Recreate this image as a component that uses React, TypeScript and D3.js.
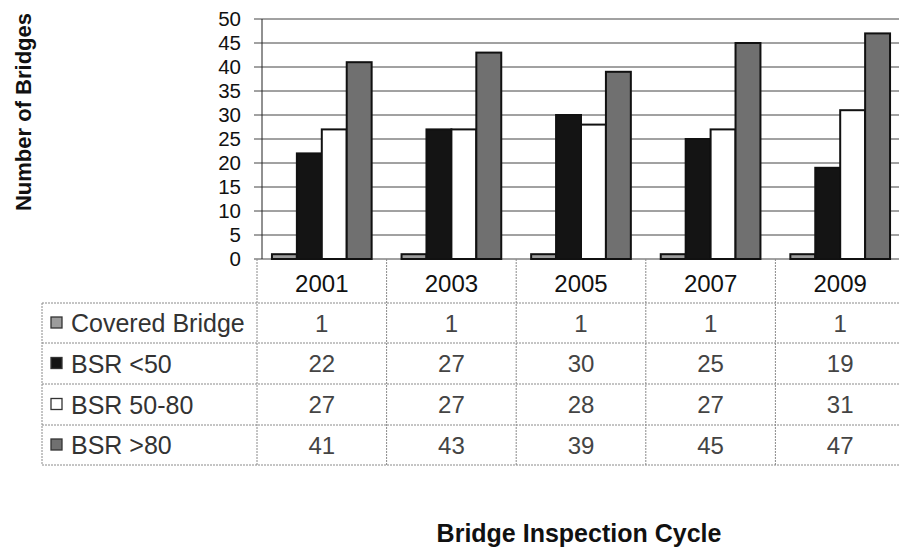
import React, { useEffect, useRef } from 'react';
import * as d3 from 'd3';

const YEARS = ['2001', '2003', '2005', '2007', '2009'];
const SERIES = ['Covered Bridge', 'BSR <50', 'BSR 50-80', 'BSR >80'];
const COVERED = [1, 1, 1, 1, 1];
const BSR_LOW = [22, 27, 30, 25, 19];
const BSR_MID = [27, 27, 28, 27, 31];
const BSR_HIGH = [41, 43, 39, 45, 47];
const Y_TICKS = [0, 5, 10, 15, 20, 25, 30, 35, 40, 45, 50];

const VALUES = [COVERED, BSR_LOW, BSR_MID, BSR_HIGH];
const FILLS = ['#9c9c9c', '#141414', '#ffffff', '#707070'];
const FONT = '"Liberation Sans", Arial, sans-serif';

export default function App() {
  const ref = useRef<SVGSVGElement>(null);

  useEffect(() => {
    const svgEl = ref.current;
    if (!svgEl) return;
    const svg = d3.select(svgEl);
    svg.selectAll('*').remove();

    const plotLeft = 257;
    const plotRight = 905;
    const plotTop = 19;
    const plotBottom = 259;

    const x = d3.scaleBand().domain(YEARS).range([plotLeft, plotRight]);
    const inner = d3
      .scaleBand()
      .domain(SERIES)
      .range([0, x.bandwidth()])
      .paddingOuter(0.6)
      .paddingInner(0);
    const y = d3.scaleLinear().domain([0, 50]).range([plotBottom, plotTop]);

    // gridlines
    svg
      .append('g')
      .selectAll('line')
      .data(Y_TICKS)
      .join('line')
      .attr('x1', plotLeft - 3)
      .attr('x2', plotRight)
      .attr('y1', (d) => y(d))
      .attr('y2', (d) => y(d))
      .attr('stroke', '#444')
      .attr('stroke-width', 1);

    // y axis line
    svg
      .append('line')
      .attr('x1', plotLeft + 5)
      .attr('x2', plotLeft + 5)
      .attr('y1', plotTop)
      .attr('y2', plotBottom)
      .attr('stroke', '#222');

    svg
      .append('g')
      .selectAll('text')
      .data(Y_TICKS)
      .join('text')
      .attr('x', 241)
      .attr('y', (d) => y(d))
      .attr('dy', '0.36em')
      .attr('text-anchor', 'end')
      .attr('font-family', FONT)
      .attr('font-size', 20.5)
      .attr('fill', '#111')
      .text((d) => d);

    // bars
    const flat = YEARS.flatMap((yr, i) =>
      SERIES.map((s, j) => ({ yr, s, j, v: VALUES[j][i] }))
    );
    svg
      .append('g')
      .selectAll('rect')
      .data(flat)
      .join('rect')
      .attr('x', (d) => (x(d.yr) ?? 0) + (inner(d.s) ?? 0))
      .attr('width', inner.bandwidth())
      .attr('y', (d) => y(d.v))
      .attr('height', (d) => y(0) - y(d.v))
      .attr('fill', (d) => FILLS[d.j])
      .attr('stroke', '#111')
      .attr('stroke-width', 2);

    // data table
    const tableLeft = 42;
    const rowTops = [259, 303, 343, 384, 425, 465];
    const cellStroke = '#8a8a8a';

    const vLines = [...YEARS.map((yr) => x(yr) ?? 0), plotRight];
    svg
      .append('g')
      .selectAll('line')
      .data(vLines)
      .join('line')
      .attr('x1', (d) => d)
      .attr('x2', (d) => d)
      .attr('y1', plotBottom)
      .attr('y2', rowTops[5])
      .attr('stroke', cellStroke)
      .attr('stroke-dasharray', '2 1');
    svg
      .append('line')
      .attr('x1', tableLeft)
      .attr('x2', tableLeft)
      .attr('y1', rowTops[1])
      .attr('y2', rowTops[5])
      .attr('stroke', cellStroke)
      .attr('stroke-dasharray', '2 1');
    svg
      .append('g')
      .selectAll('line')
      .data(rowTops.slice(1))
      .join('line')
      .attr('x1', tableLeft)
      .attr('x2', plotRight)
      .attr('y1', (d) => d)
      .attr('y2', (d) => d)
      .attr('stroke', cellStroke)
      .attr('stroke-dasharray', '2 1');

    svg
      .append('g')
      .selectAll('text')
      .data(YEARS)
      .join('text')
      .attr('x', (d) => (x(d) ?? 0) + x.bandwidth() / 2)
      .attr('y', (rowTops[0] + rowTops[1]) / 2 + 2)
      .attr('dy', '0.36em')
      .attr('text-anchor', 'middle')
      .attr('font-family', FONT)
      .attr('font-size', 24)
      .attr('fill', '#111')
      .text((d) => d);

    SERIES.forEach((s, j) => {
      const cy = (rowTops[j + 1] + rowTops[j + 2]) / 2;
      svg
        .append('rect')
        .attr('x', 51)
        .attr('y', cy - 6)
        .attr('width', 11)
        .attr('height', 11)
        .attr('fill', FILLS[j])
        .attr('stroke', '#333')
        .attr('stroke-width', 1.3);
      svg
        .append('text')
        .attr('x', 71)
        .attr('y', cy)
        .attr('dy', '0.36em')
        .attr('font-family', FONT)
        .attr('font-size', 25)
        .attr('fill', '#333')
        .text(s);
      svg
        .append('g')
        .selectAll('text')
        .data(YEARS)
        .join('text')
        .attr('x', (d) => (x(d) ?? 0) + x.bandwidth() / 2)
        .attr('y', cy)
        .attr('dy', '0.36em')
        .attr('text-anchor', 'middle')
        .attr('font-family', FONT)
        .attr('font-size', 24)
        .attr('fill', '#444')
        .text((_, i) => VALUES[j][i]);
    });

    // axis titles
    svg
      .append('text')
      .attr('transform', `translate(31,112) rotate(-90)`)
      .attr('text-anchor', 'middle')
      .attr('font-family', FONT)
      .attr('font-size', 22)
      .attr('font-weight', 700)
      .attr('fill', '#111')
      .text('Number of Bridges');
    svg
      .append('text')
      .attr('x', 579)
      .attr('y', 542)
      .attr('text-anchor', 'middle')
      .attr('font-family', FONT)
      .attr('font-size', 25)
      .attr('font-weight', 700)
      .attr('fill', '#111')
      .text('Bridge Inspection Cycle');
  }, []);

  return (
    <svg
      ref={ref}
      width={899}
      height={548}
      style={{ position: 'fixed', left: 0, top: 0, background: '#fff' }}
    />
  );
}
